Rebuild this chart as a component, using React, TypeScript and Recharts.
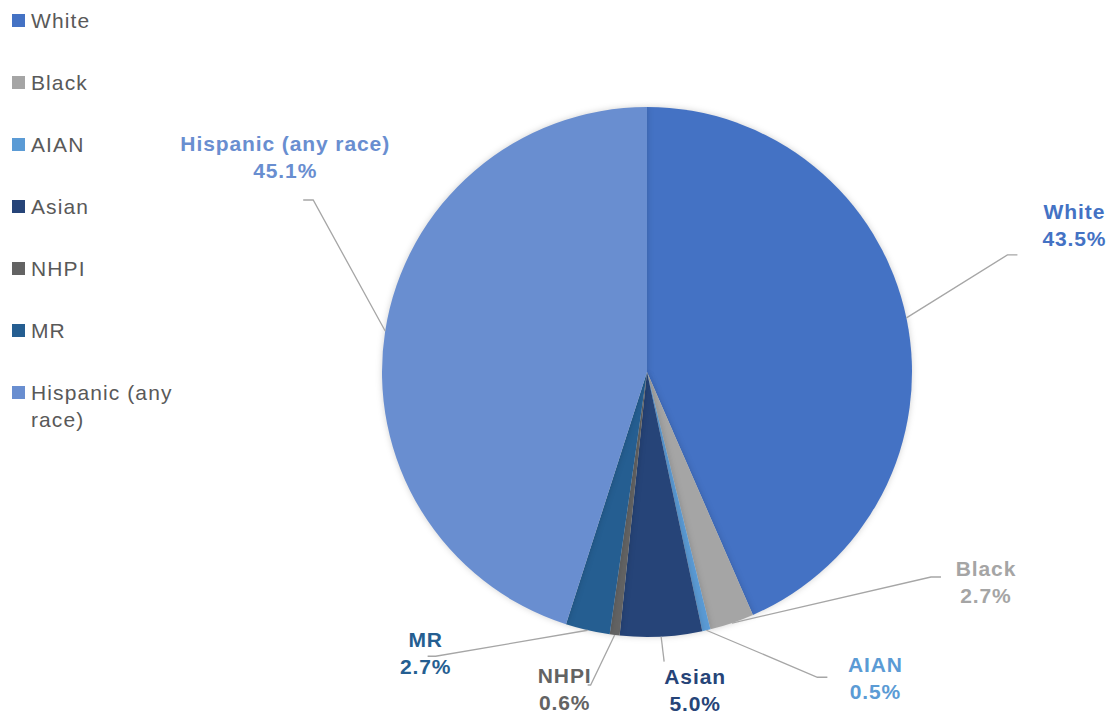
import React from 'react';
import { PieChart, Pie, Cell } from 'recharts';

const GROUPS = ['White', 'Black', 'AIAN', 'Asian', 'NHPI', 'MR', 'Hispanic (any race)'];
const SHARES = [43.5, 2.7, 0.5, 5.0, 0.6, 2.7, 45.1];
const COLORS = ['#4472C4', '#A5A5A5', '#5B9BD5', '#264478', '#636363', '#255E91', '#698ED0'];

// label placement relative to each slice's outer edge point (Excel best-fit look)
const LABEL_POS = [
  { tx: 168, ty: -93, ex: 101, ey: -63, hz: 10 },
  { tx: 254, ty: -41, ex: 199, ey: -46, hz: 10 },
  { tx: 169, ty: 48, ex: 111, ey: 47, hz: 10 },
  { tx: 34, ty: 53, ex: 3, ey: 25, hz: 0 },
  { tx: -50, ty: 54, ex: -24, ey: 50, hz: -3 },
  { tx: -162, ty: 23, ex: -152, ey: 26, hz: -8 },
  { tx: -100, ty: -174, ex: -72, ey: -131, hz: -10 },
];

const data = GROUPS.map((name, i) => ({ name, value: SHARES[i] }));

const FONT = '"Liberation Sans", Arial, sans-serif';
const RAD = Math.PI / 180;

const renderLabel = (props: any) => {
  const { cx, cy, midAngle, outerRadius, index, value } = props;
  const px = cx + outerRadius * Math.cos(-midAngle * RAD);
  const py = cy + outerRadius * Math.sin(-midAngle * RAD);
  const p = LABEL_POS[index];
  const ex = px + p.ex;
  const ey = py + p.ey;
  const color = COLORS[index];
  const common = {
    textAnchor: 'middle' as const,
    dominantBaseline: 'central' as const,
    fill: color,
    fontFamily: FONT,
    fontWeight: 'bold',
    fontSize: 21,
    letterSpacing: 0.9,
  };
  return (
    <g key={`lbl-${index}`}>
      <polyline
        points={`${px},${py} ${ex},${ey} ${ex + p.hz},${ey}`}
        fill="none"
        stroke="#A6A6A6"
        strokeWidth={1.3}
      />
      <text x={px + p.tx} y={py + p.ty - 13.5} {...common}>
        {GROUPS[index]}
      </text>
      <text x={px + p.tx} y={py + p.ty + 13.5} {...common}>
        {`${Number(value).toFixed(1)}%`}
      </text>
    </g>
  );
};

const ChartLegend = () => (
  <div style={{ fontFamily: FONT, fontSize: 21, color: '#595959', letterSpacing: 1.1 }}>
    {GROUPS.map((name, i) => (
      <div
        key={name}
        style={{ position: 'absolute', left: 12, top: 7 + i * 62, width: 175, display: 'flex' }}
      >
        <span
          style={{
            width: 13,
            height: 13,
            background: COLORS[i],
            marginTop: 7,
            marginRight: 6,
            flexShrink: 0,
          }}
        />
        <span style={{ lineHeight: '27px' }}>{name}</span>
      </div>
    ))}
  </div>
);

export default function App() {
  return (
    <div style={{ position: 'absolute', left: 0, top: 0, width: 1110, height: 715, background: '#fff' }}>
      <style>{`.recharts-pie-sector { filter: drop-shadow(0px 0px 3px rgba(0,0,0,0.18)); }`}</style>
      <PieChart width={1110} height={715} margin={{ top: 0, right: 0, bottom: 0, left: 0 }}>
        <Pie
          data={data}
          dataKey="value"
          nameKey="name"
          cx={647}
          cy={372}
          outerRadius={265}
          startAngle={90}
          endAngle={-270}
          stroke="none"
          label={renderLabel}
          labelLine={false}
          isAnimationActive={false}
        >
          {data.map((_, i) => (
            <Cell key={`cell-${i}`} fill={COLORS[i]} />
          ))}
        </Pie>
      </PieChart>
      <div style={{ position: 'absolute', left: 0, top: 0 }}>
        <ChartLegend />
      </div>
    </div>
  );
}
